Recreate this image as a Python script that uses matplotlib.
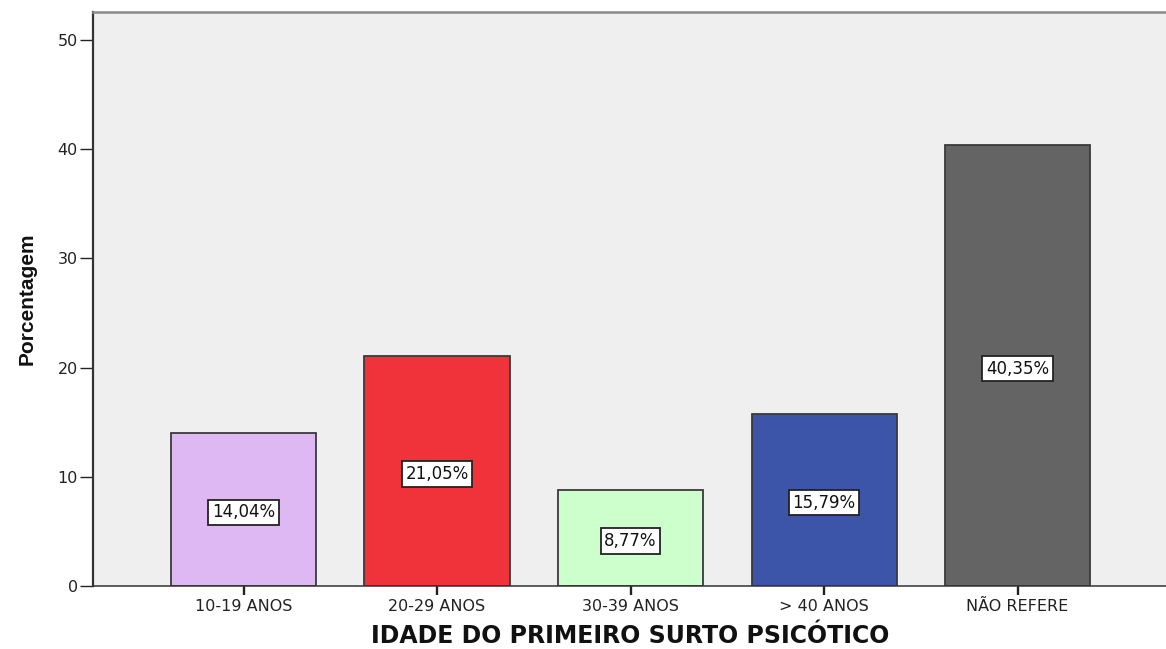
import matplotlib
matplotlib.use("Agg")
import matplotlib.pyplot as plt
from matplotlib.transforms import offset_copy

categories = ["10-19 ANOS", "20-29 ANOS", "30-39 ANOS", "> 40 ANOS", "NÃO REFERE"]
values = [14.04, 21.05, 8.77, 15.79, 40.35]
labels = ["14,04%", "21,05%", "8,77%", "15,79%", "40,35%"]
colors = ["#DEB8F2", "#F0323A", "#CCFFCC", "#3D55A8", "#646464"]
yticks = [0, 10, 20, 30, 40, 50]

plt.rcParams['font.family'] = ['DejaVu Sans']

W, H = 1166, 649
fig = plt.figure(figsize=(W/100, H/100), dpi=100)
ax = fig.add_axes([93/W, (H-586)/H, 1 - 93/W, (586-12)/H])
ax.set_facecolor("#EFEFEF")

x = list(range(len(categories)))
ax.bar(x, values, width=0.75, color=colors, edgecolor="#3a3a3a", linewidth=1.3, zorder=2)
lab_tr = offset_copy(ax.transData, fig=fig, x=0, y=-3, units="dots")
for xi, v, lab in zip(x, values, labels):
    ax.text(xi, v/2, lab, ha="center", va="center", fontsize=12, color="#111111", zorder=3,
            transform=lab_tr,
            bbox=dict(boxstyle="square,pad=0.22", fc="white", ec="#222222", lw=1.3))

ax.set_xlim(-0.778, 4.767)
ax.set_ylim(0, 52.56)
ax.set_yticks(yticks)
ax.set_yticklabels([str(t) for t in yticks], fontsize=11.5, color="#222222")
ax.set_xticks(x)
ax.set_xticklabels(categories, fontsize=11.5, color="#222222")
ax.tick_params(axis="x", length=6.5, width=1.7, color="#222222", pad=3)
ax.tick_params(axis="y", length=9.5, width=1.0, color="#222222", pad=1.5)

ax.spines["right"].set_visible(False)
ax.spines["top"].set_color("#8a8a8a")
ax.spines["top"].set_linewidth(1.8)
ax.spines["left"].set_color("#333333")
ax.spines["left"].set_linewidth(1.6)
ax.spines["bottom"].set_color("#333333")
ax.spines["bottom"].set_linewidth(1.1)

ax.set_ylabel("Porcentagem", fontsize=15, fontweight="bold",
              family=['Liberation Sans', 'DejaVu Sans'], color="#111111")
ax.yaxis.set_label_coords((27 - 93) / (W - 93), 0.5)
ax.yaxis.label.set_verticalalignment("center")

ax.set_xlabel("IDADE DO PRIMEIRO SURTO PSICÓTICO", fontsize=17, fontweight="bold", color="#111111")
ax.xaxis.set_label_coords((630 - 93) / (W - 93), -(636 - 586) / (586 - 12))
ax.xaxis.label.set_verticalalignment("center")

fig.savefig("out.png", dpi=100)
